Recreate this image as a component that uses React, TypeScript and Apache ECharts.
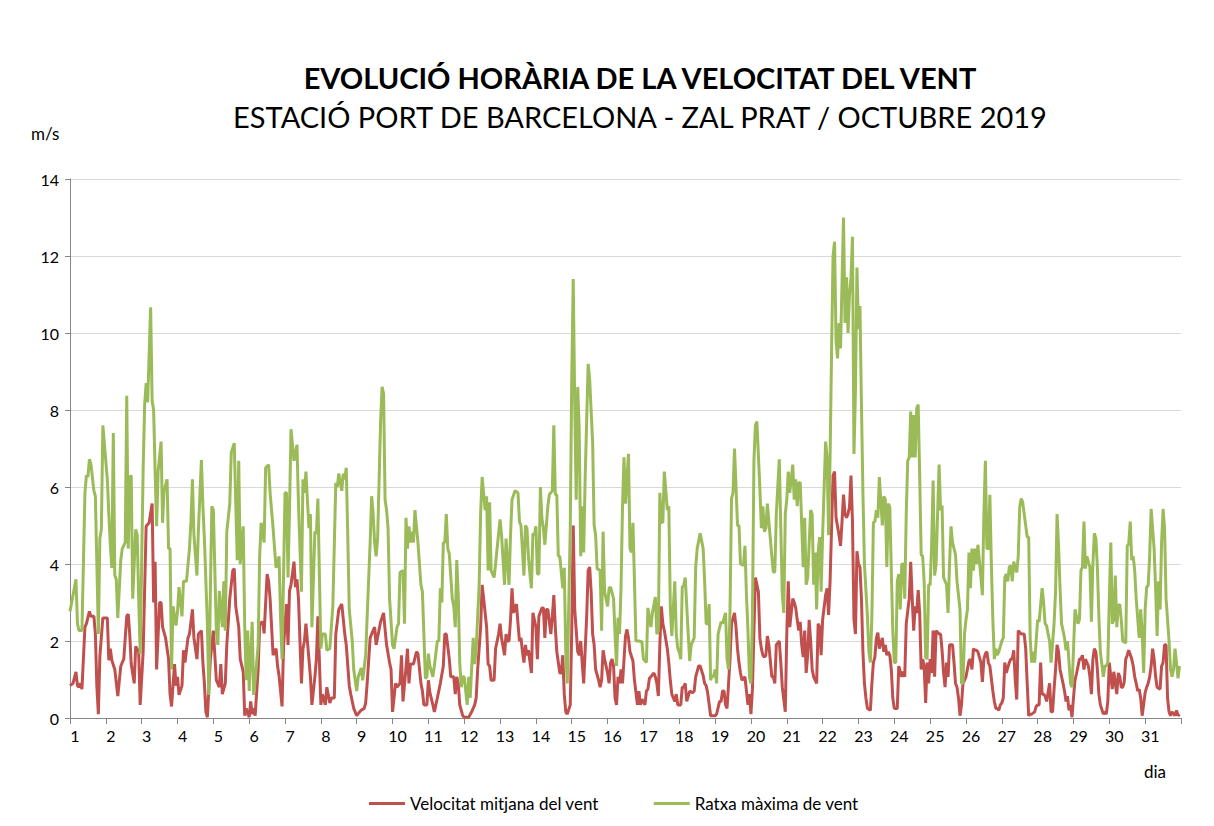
import React, { useEffect, useRef } from 'react';
import * as echarts from 'echarts';

const TITLE = 'EVOLUCIÓ HORÀRIA DE LA VELOCITAT DEL VENT';
const SUBTITLE = 'ESTACIÓ PORT DE BARCELONA - ZAL PRAT / OCTUBRE 2019';
const SERIES_NAMES = ['Velocitat mitjana del vent', 'Ratxa màxima de vent'];
const HOURS_PER_DAY = 24;
const DAYS = 31;

// [hour of month (0 = 1 Oct 00h), m/s]
const mitjana: [number, number][] = [[0,0.84],[2,0.9],[4,1.2],[5,0.84],[6,0.8],[7,0.9],[8,0.75],[10,2.36],[11,2.45],[13,2.77],[14,2.64],[16,2.64],[17,2.18],[18,0.8],[19,0.1],[20,1.6],[22,2.6],[25,2.6],[26,1.5],[27,1.8],[28,1.5],[30,1.26],[32,0.57],[34,1.35],[36,1.53],[38,2.64],[39,2.7],[40,2.18],[41,1.4],[43,0.9],[44,1.86],[46,1.72],[47,0.34],[49,1.72],[51,4.98],[53,5.07],[55,5.57],[56,3.0],[57,4.06],[58,1.26],[60,3.0],[61,3.0],[62,2.36],[64,2.08],[66,1.53],[67,0.62],[68,0.3],[70,1.4],[71,0.84],[72,1.07],[73,0.6],[75,0.84],[76,1.76],[77,1.44],[79,2.08],[80,2.18],[82,2.82],[83,2.08],[85,1.53],[86,2.18],[88,2.27],[89,1.44],[90,0.9],[91,0.16],[92,0.02],[94,1.53],[96,2.27],[97,1.63],[98,0.98],[100,0.8],[101,1.4],[102,0.62],[104,0.9],[105,1.9],[107,3.1],[109,3.83],[110,3.88],[111,2.9],[113,2.36],[114,1.53],[116,1.2],[117,0.06],[118,0.25],[120,0.02],[121,0.43],[122,0.1],[123,0.25],[124,0.06],[126,1.26],[127,2.45],[129,2.5],[130,2.2],[132,3.74],[133,3.55],[134,3.1],[136,1.63],[138,1.8],[139,1.35],[140,1.1],[142,0.3],[143,1.86],[145,2.96],[146,1.9],[147,3.3],[148,3.46],[150,4.06],[151,3.4],[152,3.6],[153,3.1],[155,0.9],[156,1.8],[157,2.0],[158,2.45],[160,1.53],[161,1.07],[162,0.34],[164,1.07],[165,1.53],[166,2.64],[168,0.34],[169,0.62],[171,0.34],[172,0.8],[174,0.39],[175,0.52],[177,0.52],[178,2.18],[180,2.82],[182,2.96],[184,2.18],[185,1.9],[187,0.84],[188,0.62],[190,0.25],[192,0.06],[194,0.16],[195,0.2],[197,0.25],[198,0.39],[199,0.9],[201,2.08],[202,2.18],[204,2.36],[205,1.9],[207,2.3],[208,2.5],[210,2.73],[211,2.3],[212,1.9],[214,1.44],[215,1.26],[216,0.16],[218,0.9],[219,0.8],[221,0.9],[222,1.63],[223,0.43],[225,1.3],[226,1.8],[227,0.9],[228,1.4],[230,1.4],[232,1.72],[233,1.67],[235,0.9],[236,0.7],[237,0.34],[239,0.34],[240,0.98],[241,0.66],[243,0.34],[244,0.16],[246,0.52],[248,0.9],[250,1.35],[251,2.18],[252,2.18],[254,1.53],[255,1.07],[257,1.07],[258,0.62],[259,1.07],[260,0.9],[261,0.34],[263,0.06],[264,0.02],[267,0.02],[269,0.16],[271,0.34],[272,0.52],[273,1.26],[275,2.36],[276,3.46],[277,3.1],[279,2.36],[280,1.4],[281,1.35],[282,0.98],[284,0.98],[285,1.8],[287,2.18],[288,2.45],[289,2.08],[291,1.63],[292,2.18],[293,2.0],[294,2.0],[295,2.55],[296,3.37],[297,2.73],[299,2.96],[300,2.45],[301,2.0],[302,2.08],[303,1.72],[304,1.44],[305,1.9],[306,1.63],[307,1.76],[309,1.17],[310,2.73],[312,2.36],[313,1.53],[314,2.64],[316,2.86],[317,2.86],[318,2.08],[319,2.82],[320,2.82],[322,2.18],[323,2.64],[324,3.19],[325,2.36],[326,1.72],[328,1.17],[329,1.17],[330,1.63],[331,0.62],[332,0.16],[333,0.1],[335,0.34],[336,2.27],[337,5.0],[338,2.82],[340,1.72],[341,1.63],[342,2.0],[343,1.44],[344,0.9],[346,2.64],[347,3.83],[348,3.92],[349,3.28],[350,2.18],[351,1.9],[352,1.26],[354,0.98],[355,0.8],[356,0.98],[357,1.76],[358,1.53],[360,1.17],[361,0.9],[362,1.44],[363,1.53],[364,1.35],[365,0.52],[366,0.34],[367,1.07],[368,0.9],[369,1.26],[370,0.9],[372,2.13],[373,2.3],[374,2.08],[375,1.72],[377,1.48],[378,0.98],[380,0.34],[381,0.7],[382,0.34],[383,0.48],[384,0.43],[385,0.34],[386,0.7],[387,0.75],[388,1.03],[389,1.07],[391,1.17],[392,1.07],[393,0.9],[394,0.57],[395,1.9],[396,2.9],[397,2.45],[398,2.27],[400,1.8],[401,1.44],[402,0.98],[403,0.62],[405,0.43],[406,0.62],[407,0.34],[409,0.34],[410,0.8],[411,0.8],[412,0.9],[413,0.43],[415,0.7],[417,0.66],[418,0.7],[419,1.07],[421,1.35],[422,1.35],[424,1.1],[425,0.9],[426,0.84],[427,0.66],[429,0.06],[430,0.06],[432,0.06],[433,0.1],[435,0.43],[436,0.43],[437,0.7],[438,0.7],[439,0.34],[440,0.25],[442,1.53],[443,2.45],[445,2.73],[446,2.36],[447,1.8],[448,1.44],[449,1.17],[450,0.98],[452,1.07],[453,0.7],[454,0.34],[455,0.62],[456,0.1],[457,0.75],[458,2.27],[459,3.65],[461,3.28],[462,2.08],[463,1.8],[464,1.63],[465,1.58],[466,1.63],[467,2.13],[468,1.9],[470,1.07],[471,1.07],[472,0.9],[473,1.9],[474,1.95],[475,2.0],[476,1.44],[477,0.8],[479,0.16],[480,2.18],[481,3.55],[482,2.36],[484,3.1],[485,3.0],[486,2.86],[487,2.55],[488,2.27],[489,2.5],[490,1.9],[491,1.58],[492,2.27],[493,1.17],[494,1.63],[495,2.55],[496,2.0],[497,1.26],[498,1.07],[500,0.9],[501,2.45],[502,2.36],[503,1.63],[504,2.55],[506,3.19],[507,3.37],[508,2.68],[509,3.55],[510,4.93],[511,6.3],[512,6.4],[513,5.2],[515,4.75],[516,4.47],[517,5.1],[518,5.8],[519,5.3],[520,5.2],[521,5.3],[522,5.48],[523,6.3],[524,5.1],[525,2.55],[526,2.18],[527,4.33],[528,4.0],[529,3.92],[530,3.1],[531,1.72],[532,0.9],[533,0.52],[534,0.25],[536,0.2],[537,0.9],[538,1.44],[539,1.58],[540,2.08],[541,2.22],[542,1.8],[544,2.08],[545,1.72],[546,1.9],[547,1.63],[548,1.72],[549,1.63],[550,1.26],[551,0.52],[552,0.25],[554,0.25],[555,1.35],[556,1.2],[557,1.07],[558,1.2],[559,1.07],[560,2.45],[562,3.1],[563,4.06],[564,3.1],[565,2.27],[566,2.9],[567,2.73],[568,3.32],[569,2.73],[570,1.26],[571,1.53],[572,1.35],[573,0.39],[574,1.44],[575,0.9],[576,1.53],[577,1.17],[578,2.27],[579,1.07],[580,2.27],[582,2.18],[583,2.18],[584,1.76],[585,1.17],[586,0.8],[587,1.44],[588,1.07],[589,1.9],[591,1.9],[592,1.44],[593,0.9],[594,0.8],[595,0.52],[596,0.06],[597,0.34],[598,0.9],[599,0.98],[600,1.07],[602,1.48],[603,1.53],[604,1.26],[605,1.8],[606,1.76],[607,1.76],[608,1.72],[610,1.44],[611,0.94],[612,1.53],[613,1.67],[614,1.72],[615,1.44],[616,1.35],[618,0.7],[619,0.43],[620,0.25],[621,0.25],[622,0.2],[623,0.34],[624,0.39],[625,0.52],[626,1.44],[627,1.17],[629,1.44],[630,1.53],[631,1.53],[632,1.76],[633,0.98],[634,0.48],[635,2.27],[637,2.18],[638,2.18],[639,2.18],[640,1.8],[641,0.9],[642,0.06],[643,0.1],[644,0.1],[646,0.16],[647,0.3],[648,0.34],[649,0.34],[650,1.44],[651,0.62],[652,0.62],[653,0.57],[654,0.43],[656,0.9],[657,0.16],[658,0.16],[659,0.75],[660,1.26],[661,1.9],[662,1.72],[663,1.26],[665,0.9],[666,0.7],[667,0.43],[668,0.57],[669,0.2],[670,0.34],[671,0.02],[672,0.52],[673,0.98],[674,1.15],[676,1.53],[677,1.53],[678,1.63],[679,1.26],[680,1.53],[682,1.35],[683,1.07],[684,0.62],[685,1.53],[686,1.8],[687,1.72],[688,1.26],[689,0.62],[690,0.34],[692,0.1],[693,0.16],[694,0.1],[695,0.43],[696,1.44],[697,1.07],[698,0.75],[699,1.2],[701,0.62],[702,1.17],[703,1.07],[704,0.8],[705,0.8],[706,0.94],[707,1.53],[708,1.63],[709,1.76],[711,1.53],[712,1.35],[713,1.07],[714,0.9],[715,0.7],[716,0.75],[717,0.52],[718,0.06],[720,0.66],[721,0.8],[722,0.9],[723,1.07],[724,1.35],[725,1.8],[726,1.53],[727,1.07],[728,0.8],[730,0.75],[731,1.35],[732,1.44],[733,1.9],[734,1.9],[735,0.52],[736,0.16],[737,0.06],[738,0.16],[740,0.06],[741,0.2],[742,0.06],[743,0.1]];

const ratxa: [number, number][] = [[0,2.77],[4,3.6],[5,2.45],[6,2.27],[8,2.27],[10,5.85],[11,6.3],[12,6.26],[13,6.72],[14,6.6],[16,5.9],[17,5.76],[19,2.18],[20,4.66],[21,4.9],[22,7.6],[25,6.2],[26,5.3],[27,4.5],[28,3.9],[29,7.4],[30,3.7],[31,3.6],[32,2.6],[34,4.1],[35,4.4],[37,4.56],[38,8.37],[39,4.4],[40,6.26],[41,6.3],[42,3.1],[44,4.9],[45,4.75],[46,3.1],[47,1.67],[49,6.5],[50,8.14],[51,8.7],[52,8.2],[54,10.67],[55,8.24],[56,8.0],[57,6.4],[58,4.98],[59,6.4],[61,7.18],[62,5.07],[63,5.9],[65,6.2],[66,4.4],[67,4.4],[68,1.26],[69,2.9],[71,2.4],[72,2.77],[73,3.4],[75,2.64],[76,3.55],[78,3.55],[80,4.4],[81,5.1],[82,6.2],[83,4.75],[85,3.7],[86,4.9],[88,6.7],[89,5.5],[90,4.65],[92,2.45],[93,0.6],[94,3.3],[95,5.5],[96,5.4],[98,2.27],[99,1.9],[100,3.3],[102,2.36],[103,3.55],[104,2.27],[105,4.84],[107,5.57],[108,6.9],[110,7.14],[111,5.57],[112,4.1],[113,6.68],[114,4.0],[116,4.98],[117,2.36],[118,0.98],[119,2.27],[120,0.7],[122,2.5],[123,0.6],[124,0.98],[126,1.9],[127,4.2],[128,5.07],[130,4.56],[131,6.5],[133,6.58],[134,5.85],[136,4.93],[137,4.4],[138,3.9],[140,4.2],[141,2.64],[142,1.53],[144,5.85],[145,5.85],[146,3.65],[147,5.4],[148,7.5],[150,6.68],[152,7.1],[153,5.57],[155,3.28],[156,6.2],[157,5.85],[158,6.4],[160,4.93],[161,5.3],[162,2.36],[164,4.84],[165,4.8],[166,5.7],[168,1.8],[169,2.18],[171,2.18],[172,1.76],[174,1.8],[176,2.9],[178,6.1],[179,6.0],[180,6.35],[182,5.9],[183,6.35],[184,6.2],[185,6.5],[186,4.75],[187,2.82],[189,2.0],[190,1.26],[192,0.7],[193,1.07],[195,1.3],[196,0.98],[198,1.63],[199,2.64],[201,4.56],[202,5.76],[203,5.3],[204,4.56],[205,4.2],[206,4.66],[208,7.7],[209,8.6],[210,8.42],[211,5.67],[212,5.4],[213,4.93],[214,3.1],[216,1.9],[217,1.8],[219,2.36],[220,2.45],[221,3.78],[223,3.83],[224,2.45],[225,5.2],[226,4.4],[227,4.98],[228,4.56],[229,4.84],[230,4.56],[231,5.4],[233,4.56],[235,3.46],[236,3.28],[238,1.03],[239,1.07],[240,1.67],[241,1.35],[243,1.07],[244,1.35],[246,2.0],[247,2.0],[248,3.37],[249,3.0],[250,4.56],[251,4.56],[252,5.3],[253,4.4],[254,4.26],[256,3.1],[257,2.9],[258,2.36],[259,4.1],[260,3.2],[261,1.44],[262,0.8],[263,1.07],[264,1.07],[266,0.34],[267,1.07],[268,0.52],[270,2.08],[271,1.4],[272,1.8],[274,3.46],[275,5.34],[276,6.26],[278,5.4],[279,5.76],[280,3.83],[281,5.6],[282,3.83],[284,3.65],[285,4.0],[286,4.4],[288,5.16],[289,4.75],[290,4.1],[291,3.46],[292,4.66],[294,3.46],[295,4.75],[296,5.67],[298,5.9],[300,5.85],[301,5.1],[302,5.0],[304,3.7],[305,5.0],[306,4.93],[307,4.2],[308,3.74],[309,3.37],[310,4.8],[311,4.75],[312,4.98],[313,3.74],[314,3.74],[315,6.0],[316,5.2],[317,4.93],[318,4.5],[320,5.5],[321,5.8],[323,5.9],[324,7.6],[325,5.8],[326,5.8],[327,4.2],[328,4.2],[330,3.37],[331,3.9],[332,1.72],[333,0.9],[335,4.93],[336,8.8],[337,11.4],[338,8.15],[339,5.67],[340,8.6],[341,7.5],[342,4.2],[343,5.5],[344,4.3],[345,6.26],[347,9.2],[348,8.8],[350,7.14],[351,5.0],[352,4.75],[353,3.88],[355,3.83],[356,2.27],[357,4.84],[358,3.28],[360,2.9],[361,3.37],[362,3.4],[364,3.1],[365,2.18],[366,1.35],[367,2.6],[368,2.18],[369,3.37],[370,5.5],[371,6.77],[372,5.57],[374,6.86],[375,4.4],[376,4.3],[377,5.07],[378,3.55],[379,2.0],[381,2.0],[383,1.98],[384,1.53],[386,1.44],[387,2.86],[389,2.36],[390,2.73],[392,3.14],[393,2.18],[394,2.27],[395,5.85],[396,5.1],[397,5.07],[398,6.4],[400,5.4],[401,5.5],[402,2.9],[403,2.13],[405,3.55],[406,2.18],[407,1.8],[408,1.72],[409,1.53],[410,3.4],[411,3.44],[412,3.65],[414,2.18],[415,1.48],[416,1.9],[418,2.08],[419,3.92],[420,4.4],[422,4.8],[424,4.4],[425,3.55],[426,2.45],[427,2.45],[428,2.96],[429,0.98],[430,1.1],[431,1.07],[432,1.26],[433,0.9],[434,2.18],[436,2.5],[437,2.45],[439,2.73],[440,1.53],[441,1.26],[442,2.82],[443,5.7],[444,5.85],[445,7.0],[446,6.03],[447,5.0],[448,5.0],[449,4.0],[451,3.96],[452,4.47],[453,3.19],[454,2.27],[455,1.07],[456,0.9],[457,2.64],[458,6.68],[459,7.6],[460,7.7],[462,5.94],[463,4.93],[464,5.5],[465,4.84],[466,4.93],[467,5.57],[468,5.1],[470,4.2],[471,3.78],[472,3.8],[473,5.3],[474,6.03],[475,6.72],[476,4.93],[477,3.19],[478,2.73],[479,5.3],[480,5.67],[481,6.4],[482,5.85],[484,6.58],[485,5.67],[486,6.2],[487,5.5],[488,6.1],[489,6.12],[491,3.92],[492,5.2],[493,3.46],[494,3.65],[496,5.4],[497,5.3],[498,3.46],[499,4.3],[500,2.82],[501,4.3],[502,4.7],[503,3.28],[504,4.75],[506,7.18],[507,6.77],[508,4.75],[509,6.77],[510,9.52],[511,12.0],[512,12.37],[513,9.8],[514,9.34],[515,10.26],[516,9.6],[518,13.0],[519,10.26],[520,11.45],[521,10.0],[522,11.0],[523,11.45],[524,12.5],[525,6.86],[526,8.5],[527,11.7],[528,10.1],[529,10.7],[530,8.14],[531,5.85],[532,4.0],[534,2.64],[535,1.72],[536,1.44],[537,2.64],[538,5.07],[539,5.1],[540,5.4],[541,5.2],[542,6.26],[544,5.0],[545,5.76],[546,5.67],[547,3.92],[548,5.57],[549,5.48],[550,3.83],[551,2.27],[552,1.44],[553,1.44],[554,3.55],[555,3.74],[556,2.82],[557,4.0],[558,4.0],[559,3.1],[560,5.3],[561,6.68],[562,6.77],[563,7.96],[564,6.77],[565,7.87],[566,6.77],[567,8.05],[568,8.14],[569,6.3],[570,4.24],[571,4.2],[572,3.55],[573,1.58],[574,1.53],[575,3.46],[576,3.46],[577,4.47],[578,6.17],[579,3.7],[580,4.0],[581,5.3],[582,6.58],[583,5.4],[584,5.52],[585,3.65],[587,3.46],[588,2.73],[589,4.0],[590,4.98],[591,4.56],[592,4.4],[593,4.24],[594,3.55],[596,2.82],[597,0.9],[598,0.9],[599,2.18],[600,2.55],[601,2.82],[602,4.3],[603,3.37],[604,4.4],[605,3.83],[606,4.4],[607,4.0],[608,4.5],[610,3.65],[611,3.19],[612,5.3],[613,6.68],[614,4.4],[615,4.4],[616,5.8],[617,4.0],[618,2.55],[619,1.53],[620,1.8],[621,1.63],[622,1.72],[624,2.0],[625,2.08],[626,3.65],[627,3.74],[628,3.55],[629,3.92],[630,3.96],[631,3.55],[632,4.06],[634,3.78],[635,4.2],[636,5.48],[637,5.7],[638,5.6],[639,5.3],[641,4.7],[642,4.7],[643,2.08],[644,1.44],[645,1.72],[646,1.44],[647,2.0],[648,2.55],[649,2.5],[651,3.37],[652,3.0],[653,2.45],[654,2.4],[655,2.18],[656,2.0],[657,1.44],[659,2.45],[660,3.28],[661,5.3],[662,4.47],[663,3.37],[664,2.45],[665,2.27],[666,2.08],[667,1.76],[668,2.0],[670,0.9],[671,0.8],[672,1.76],[673,2.82],[675,2.45],[676,2.55],[677,3.83],[678,3.92],[679,5.1],[680,3.88],[681,4.2],[683,3.92],[684,2.5],[685,4.0],[686,4.8],[687,4.66],[688,3.92],[689,2.64],[690,1.72],[692,1.07],[693,1.35],[694,1.35],[695,1.44],[696,3.1],[697,4.56],[698,2.45],[699,2.55],[700,3.7],[701,2.36],[702,2.9],[703,2.96],[704,2.55],[705,2.0],[707,1.95],[708,4.47],[709,4.52],[710,5.1],[711,4.1],[712,4.2],[713,3.83],[714,3.1],[716,2.08],[717,2.82],[718,2.2],[719,1.17],[720,2.82],[721,3.4],[722,3.44],[723,4.2],[724,5.43],[726,4.4],[727,3.37],[728,2.13],[729,3.55],[730,2.82],[731,4.56],[732,5.43],[733,4.93],[734,3.1],[736,2.0],[737,1.26],[738,1.07],[739,1.26],[740,1.8],[741,1.44],[742,1.03],[743,1.35]];

const Y_MIN = 0;
const Y_MAX = 14;
const Y_STEP = 2;

const RED = '#C0504D';
const GREEN = '#9BBB59';
const FONT = 'Lato, "Open Sans", sans-serif';

export default function App() {
  const ref = useRef<HTMLDivElement>(null);
  useEffect(() => {
    if (!ref.current) return;
    const chart = echarts.init(ref.current, undefined, { renderer: 'svg' });
    chart.setOption({
      animation: false,
      backgroundColor: '#ffffff',
      title: [
        {
          text: TITLE,
          left: 635,
          top: 58,
          textAlign: 'center',
          textStyle: { fontFamily: FONT, fontWeight: 'bold', fontSize: 29, color: '#000' },
        },
        {
          text: SUBTITLE,
          left: 635,
          top: 97,
          textAlign: 'center',
          textStyle: { fontFamily: FONT, fontWeight: 'normal', fontSize: 29, color: '#000' },
        },
      ],
      grid: { left: 70, right: 33, top: 179, bottom: 108 },
      legend: {
        left: 364,
        top: 790,
        itemWidth: 36,
        itemHeight: 3,
        itemGap: 55,
        icon: 'rect',
        textStyle: { fontFamily: FONT, fontSize: 17, color: '#000' },
        data: SERIES_NAMES,
      },
      xAxis: {
        type: 'value',
        min: 0,
        max: DAYS * HOURS_PER_DAY,
        interval: HOURS_PER_DAY,
        axisLine: { lineStyle: { color: '#868686', width: 1 } },
        axisTick: { show: true, length: 6, lineStyle: { color: '#868686' } },
        splitLine: { show: false },
        axisLabel: {
          formatter: (v: number) => (v < DAYS * HOURS_PER_DAY ? String(v / HOURS_PER_DAY + 1) : ''),
          color: '#000',
          fontFamily: FONT,
          fontSize: 16,
          margin: 9,
          padding: [0, 0, 0, 10],
        },
      },
      yAxis: {
        type: 'value',
        min: Y_MIN,
        max: Y_MAX,
        interval: Y_STEP,
        axisLine: { show: true, lineStyle: { color: '#868686', width: 1 } },
        axisTick: { show: true, length: 5, lineStyle: { color: '#868686' } },
        splitLine: { show: true, lineStyle: { color: '#d9d9d9', width: 1 } },
        axisLabel: { color: '#000', fontFamily: FONT, fontSize: 16, margin: 11 },
      },
      graphic: [
        { type: 'text', left: 31, top: 125, style: { text: 'm/s', fontFamily: FONT, fontSize: 17, fill: '#000' } },
        { type: 'text', left: 1144, top: 763, style: { text: 'dia', fontFamily: FONT, fontSize: 17, fill: '#000' } },
      ],
      series: [
        {
          name: SERIES_NAMES[0],
          type: 'line',
          data: mitjana,
          symbol: 'none',
          lineStyle: { color: RED, width: 3 },
          itemStyle: { color: RED },
        },
        {
          name: SERIES_NAMES[1],
          type: 'line',
          data: ratxa,
          symbol: 'none',
          lineStyle: { color: GREEN, width: 3 },
          itemStyle: { color: GREEN },
        },
      ],
    });
    return () => chart.dispose();
  }, []);
  return (
    <div
      ref={ref}
      style={{ position: 'fixed', left: 0, top: 0, width: 1214, height: 826, background: '#fff' }}
    />
  );
}
